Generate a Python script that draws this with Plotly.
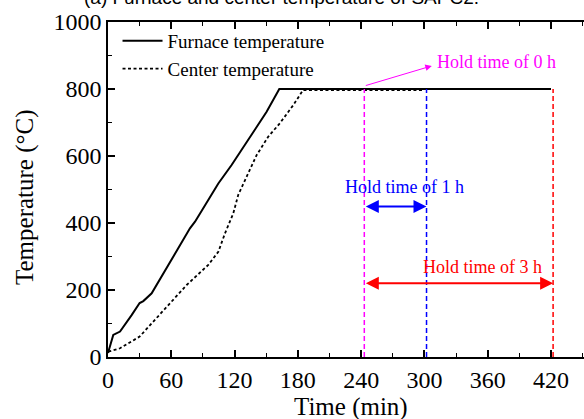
import plotly.graph_objects as go

# Furnace temperature profile (min, °C)
furnace_time = [0, 5, 11.4, 16, 22.4, 30, 33.5, 41.4, 58.8, 77.7, 82.5, 104.6, 117.2, 123.5, 150.4, 162.4, 420]
furnace_temp = [12, 66, 76, 96, 125, 161, 167, 190, 284, 384, 404, 518, 573, 603, 732, 800, 800]

# Specimen center temperature profile (min, °C)
center_time = [0.3, 11.4, 30, 40, 55.6, 74.6, 95.1, 104.6, 110.9, 118.8, 123.5, 131.5, 141, 152, 163, 175.7, 185, 300]
center_temp = [16, 26, 61, 96, 150, 215, 275, 314, 369, 429, 484, 538, 603, 658, 698, 752, 797, 797]

# Hold-time markers: start of hold, end after 1 h, end after 3 h
hold_times = [243, 302, 422]
hold_colors = ["#FF00FF", "#0000FF", "#FF0000"]
hold_top = 800
hold_labels = ["Hold time of 0 h", "Hold time of 1 h", "Hold time of 3 h"]

x_ticks = [0, 60, 120, 180, 240, 300, 360, 420]
y_ticks = [0, 200, 400, 600, 800, 1000]

SERIF = "Liberation Serif, Times New Roman, serif"

fig = go.Figure()

fig.add_trace(go.Scatter(
    x=furnace_time, y=furnace_temp, mode="lines",
    name="Furnace temperature",
    line=dict(color="black", width=2),
))
fig.add_trace(go.Scatter(
    x=center_time, y=center_temp, mode="lines",
    name="Center temperature",
    line=dict(color="black", width=1.8, dash="3px,2.5px"),
))

# Vertical dashed markers
for t, c in zip(hold_times, hold_colors):
    fig.add_trace(go.Scatter(
        x=[t, t], y=[0, hold_top], mode="lines", showlegend=False,
        line=dict(color=c, width=1.5, dash="5px,3px"),
    ))

annotations = []
# Hold time of 0 h: pointer arrow from the start of the hold
annotations.append(dict(
    x=307, y=869, ax=hold_times[0], ay=809,
    xref="x", yref="y", axref="x", ayref="y",
    showarrow=True, arrowhead=2, arrowsize=1.3, arrowwidth=1,
    arrowcolor=hold_colors[0], text="",
))
annotations.append(dict(
    x=310, y=881, xref="x", yref="y", xanchor="left", yanchor="middle",
    text=hold_labels[0], showarrow=False,
    font=dict(family=SERIF, size=18, color=hold_colors[0]),
))
# Hold time of 1 h: double arrow
annotations.append(dict(
    x=hold_times[1], y=449, ax=hold_times[0], ay=449,
    xref="x", yref="y", axref="x", ayref="y",
    showarrow=True, arrowhead=2, startarrowhead=2, arrowside="end+start",
    arrowsize=1.3, startarrowsize=1.3, arrowwidth=2,
    arrowcolor=hold_colors[1], text="",
))
annotations.append(dict(
    x=281.5, y=508, xref="x", yref="y", xanchor="center", yanchor="middle",
    text=hold_labels[1], showarrow=False,
    font=dict(family=SERIF, size=18, color=hold_colors[1]),
))
# Hold time of 3 h: double arrow
annotations.append(dict(
    x=hold_times[2], y=220, ax=hold_times[0], ay=220,
    xref="x", yref="y", axref="x", ayref="y",
    showarrow=True, arrowhead=2, startarrowhead=2, arrowside="end+start",
    arrowsize=1.3, startarrowsize=1.3, arrowwidth=2,
    arrowcolor=hold_colors[2], text="",
))
annotations.append(dict(
    x=355.5, y=270, xref="x", yref="y", xanchor="center", yanchor="middle",
    text=hold_labels[2], showarrow=False,
    font=dict(family=SERIF, size=18, color=hold_colors[2]),
))

# Figure title (partly above the page edge)
annotations.append(dict(
    x=281, y=-3, xref="paper", yref="paper", showarrow=False,
    text="(a) Furnace and center temperature of SAPC2.",
    font=dict(family="Liberation Sans, Arial, sans-serif", size=19, color="black"),
    xanchor="center", yanchor="middle",
))

# Axis titles
annotations.append(dict(
    x=25, y=197, showarrow=False, text="Temperature (°C)", textangle=-90,
    font=dict(family=SERIF, size=25, color="black"),
    xanchor="center", yanchor="middle",
))
annotations.append(dict(
    x=351, y=407, showarrow=False, text="Time (min)",
    font=dict(family=SERIF, size=25, color="black"),
    xanchor="center", yanchor="middle",
))

W, H = 584, 419
L, R, T, B = 108, 0, 22, 62
pw, ph = W - L - R, H - T - B

# convert the pixel-positioned annotations (title, axis titles) to paper coordinates
for a in annotations:
    if a.get("xref") is None:
        a["xref"], a["yref"] = "paper", "paper"
        a["x"] = (a["x"] - L) / pw
        a["y"] = 1 - (a["y"] - T) / ph
    elif a["xref"] == "paper" and a["text"].startswith("(a)"):
        a["x"] = (a["x"] - L) / pw
        a["y"] = 1 - (a["y"] - T) / ph

fig.update_layout(
    width=W, height=H,
    margin=dict(l=L, r=R, t=T, b=B, pad=0),
    paper_bgcolor="white", plot_bgcolor="white",
    font=dict(family=SERIF, size=24, color="black"),
    showlegend=True,
    legend=dict(
        x=0.02, y=1.0, xanchor="left", yanchor="top",
        bgcolor="rgba(0,0,0,0)", borderwidth=0,
        font=dict(family=SERIF, size=19, color="black"),
        itemwidth=40, tracegroupgap=0,
    ),
    annotations=annotations,
)

fig.update_xaxes(
    range=[0, 451.3], tickvals=x_ticks, ticktext=[str(v) for v in x_ticks],
    showline=True, linecolor="black", linewidth=1.5, mirror="allticks",
    ticks="inside", ticklen=7, tickwidth=1.5, tickcolor="black",
    minor=dict(dtick=30, ticks="inside", ticklen=4, tickwidth=1.2, tickcolor="black"),
    showgrid=False, zeroline=False,
    tickfont=dict(family=SERIF, size=24, color="black"),
)
fig.update_yaxes(
    range=[0, 1000], tickvals=y_ticks, ticktext=[str(v) for v in y_ticks],
    showline=True, linecolor="black", linewidth=1.5, mirror=False,
    ticks="inside", ticklen=7, tickwidth=1.5, tickcolor="black",
    minor=dict(dtick=100, ticks="inside", ticklen=4, tickwidth=1.2, tickcolor="black"),
    showgrid=False, zeroline=False,
    tickfont=dict(family=SERIF, size=24, color="black"),
)

fig.write_html("out.html")
